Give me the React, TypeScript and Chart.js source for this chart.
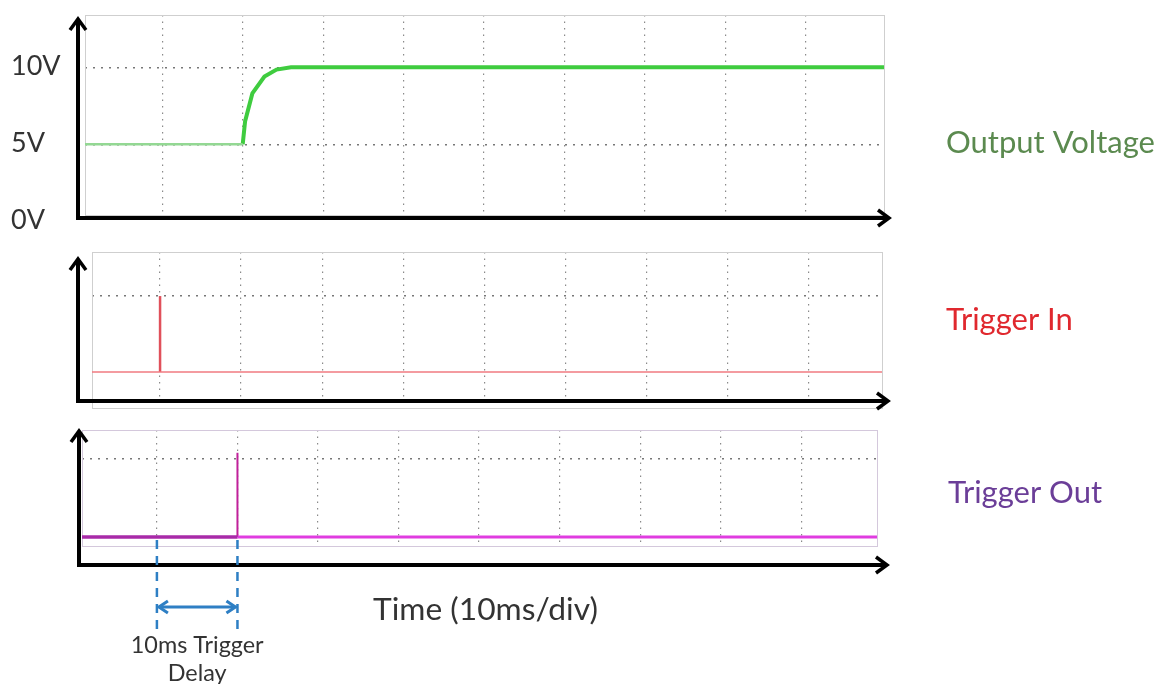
import React, { useEffect, useRef } from 'react';
import { Chart, registerables } from 'chart.js';
Chart.register(...registerables);

// ---------------- data ----------------
const gridTimesMs = [10, 20, 30, 40, 50, 60, 70, 80, 90];

const outputLowT = [0, 20];
const outputLowV = [5, 5];
const outputRiseT = [20, 20.3, 21.2, 22.7, 24.2, 26, 100];
const outputRiseV = [5, 6.5, 8.3, 9.4, 9.85, 10, 10];
const voltTickValues = [0, 5, 10];
const voltTickLabels = ['0V', '5V', '10V'];
const voltGridValues = [5, 10];

const trigInBaseT = [0, 100];
const trigInBaseV = [0, 0];
const trigInSpikeT = [10, 10];
const trigInSpikeV = [0, 1];

const trigOutPreT = [0, 20];
const trigOutPreV = [0, 0];
const trigOutSpikeT = [20, 20];
const trigOutSpikeV = [0, 1.08];
const trigOutPostT = [20, 100];
const trigOutPostV = [0, 0];
const logicGridValues = [1];

const delayStartMs = 10;
const delayEndMs = 20;

const seriesNames = ['Output Voltage', 'Trigger In', 'Trigger Out'];
const timeAxisLabel = 'Time (10ms/div)';
const delayLabelLines = ['10ms Trigger', 'Delay'];

// ---------------- helpers ----------------
const FONT = 'Lato, "Open Sans", sans-serif';
const xy = (ts: number[], vs: number[]) => ts.map((t, i) => ({ x: t, y: vs[i] }));

function fitSize(ctx: CanvasRenderingContext2D, text: string, target: number) {
  ctx.font = `100px ${FONT}`;
  const w = ctx.measureText(text).width || 1;
  return (100 * target) / w;
}

function chevron(ctx: CanvasRenderingContext2D, tx: number, ty: number, dx: number, dy: number, len: number, half: number) {
  const bx = tx - dx * len;
  const by = ty - dy * len;
  const px = -dy;
  const py = dx;
  ctx.beginPath();
  ctx.moveTo(bx + px * half, by + py * half);
  ctx.lineTo(tx, ty);
  ctx.lineTo(bx - px * half, by - py * half);
  ctx.stroke();
}

type PanelCfg = {
  key: string;
  top: number;
  height: number;
  padding: { left: number; right: number; top: number; bottom: number };
  xMin: number;
  xMax: number;
  yMin: number;
  yMax: number;
  yGrid: number[];
  datasets: any[];
  axis: { vx: number; vTop: number; hy: number; hRight: number };
  name: string;
  nameColor: string;
  nameLeft: number;
  nameY: number;
  boxColor: string;
  extra?: (chart: any, ctx: CanvasRenderingContext2D, off: number) => void;
};

const panels: PanelCfg[] = [
  {
    key: 'out',
    top: 0,
    height: 232,
    padding: { left: 85, right: 1161 - 884, top: 15, bottom: 232 - 215 },
    xMin: 0.4,
    xMax: 99.7,
    yMin: 0.4,
    yMax: 13.4,
    yGrid: voltGridValues,
    datasets: [
      { data: xy(outputLowT, outputLowV), borderColor: '#93d893', borderWidth: 2.5 },
      { data: xy(outputRiseT, outputRiseV), borderColor: '#3fcc3f', borderWidth: 4 },
      { data: xy(outputRiseT, outputRiseV), borderColor: '#2e8a2e', borderWidth: 1.4 },
    ],
    axis: { vx: 78, vTop: 18, hy: 218, hRight: 890 },
    name: seriesNames[0],
    nameColor: '#5b8a4f',
    nameLeft: 946,
    nameY: 143,
    boxColor: '#cfcfcf',
    extra: (chart, ctx, off) => {
      const y = chart.scales.y;
      ctx.save();
      ctx.font = `27px ${FONT}`;
      ctx.fillStyle = '#333';
      ctx.textAlign = 'left';
      ctx.textBaseline = 'middle';
      voltTickValues.forEach((v, i) => {
        ctx.fillText(voltTickLabels[i], 11, y.getPixelForValue(v) - 1);
      });
      ctx.restore();
    },
  },
  {
    key: 'in',
    top: 232,
    height: 190,
    padding: { left: 92, right: 1161 - 882, top: 252 - 232, bottom: 422 - 408 },
    xMin: 1.6,
    xMax: 99.1,
    yMin: -0.474,
    yMax: 1.58,
    yGrid: logicGridValues,
    datasets: [
      { data: xy(trigInBaseT, trigInBaseV), borderColor: '#f07a80', borderWidth: 1.6 },
      { data: xy(trigInSpikeT, trigInSpikeV), borderColor: '#e0505a', borderWidth: 2.5 },
    ],
    axis: { vx: 78, vTop: 258, hy: 401, hRight: 889 },
    name: seriesNames[1],
    nameColor: '#e0282e',
    nameLeft: 946,
    nameY: 320,
    boxColor: '#cfcfcf',
  },
  {
    key: 'outTrig',
    top: 422,
    height: 262,
    padding: { left: 82, right: 1161 - 877, top: 430 - 422, bottom: 684 - 546 },
    xMin: 0.7,
    xMax: 99.4,
    yMin: -0.115,
    yMax: 1.372,
    yGrid: logicGridValues,
    datasets: [
      { data: xy(trigOutPreT, trigOutPreV), borderColor: '#a82aa8', borderWidth: 3.5 },
      { data: xy(trigOutPostT, trigOutPostV), borderColor: '#e03ce0', borderWidth: 3 },
      { data: xy(trigOutSpikeT, trigOutSpikeV), borderColor: '#c0209a', borderWidth: 2 },
    ],
    axis: { vx: 79, vTop: 430, hy: 565, hRight: 888 },
    name: seriesNames[2],
    nameColor: '#6b3e98',
    nameLeft: 948,
    nameY: 493,
    boxColor: '#d4c8dc',
    extra: (chart, ctx, off) => {
      const x = chart.scales.x;
      const x1 = x.getPixelForValue(delayStartMs);
      const x2 = x.getPixelForValue(delayEndMs);
      const blue = '#2e7fc4';
      ctx.save();
      // dashed markers
      ctx.strokeStyle = blue;
      ctx.lineWidth = 2.5;
      ctx.setLineDash([9, 7]);
      [x1, x2].forEach((px) => {
        ctx.beginPath();
        ctx.moveTo(px, 540 - off);
        ctx.lineTo(px, 630 - off);
        ctx.stroke();
      });
      ctx.setLineDash([]);
      // double arrow
      const ay = 607 - off;
      ctx.lineWidth = 3;
      ctx.lineJoin = 'miter';
      ctx.beginPath();
      ctx.moveTo(x1 + 2, ay);
      ctx.lineTo(x2 - 2, ay);
      ctx.stroke();
      chevron(ctx, x1 + 2, ay, -1, 0, 9, 6);
      chevron(ctx, x2 - 2, ay, 1, 0, 9, 6);
      // texts
      ctx.fillStyle = '#333';
      ctx.textBaseline = 'middle';
      const ts = fitSize(ctx, timeAxisLabel, 225);
      ctx.font = `${ts}px ${FONT}`;
      ctx.textAlign = 'left';
      ctx.fillText(timeAxisLabel, 373, 610 - off);
      const ds = fitSize(ctx, delayLabelLines[0], 133);
      ctx.font = `${ds}px ${FONT}`;
      ctx.textAlign = 'center';
      const cx = (x1 + x2) / 2;
      ctx.fillText(delayLabelLines[0], cx, 645 - off);
      ctx.fillText(delayLabelLines[1], cx, 673 - off);
      ctx.restore();
    },
  },
];

function makePlugin(p: PanelCfg) {
  const off = p.top;
  return {
    id: 'decor_' + p.key,
    beforeDatasetsDraw(chart: any) {
      const { ctx, chartArea: a } = chart;
      ctx.save();
      ctx.strokeStyle = p.boxColor;
      ctx.lineWidth = 1;
      ctx.strokeRect(Math.round(a.left) + 0.5, Math.round(a.top) + 0.5, Math.round(a.right - a.left), Math.round(a.bottom - a.top));
      ctx.restore();
    },
    afterDraw(chart: any) {
      const ctx: CanvasRenderingContext2D = chart.ctx;
      const ax = p.axis;
      ctx.save();
      ctx.strokeStyle = '#000';
      ctx.lineWidth = 4;
      ctx.lineCap = 'butt';
      ctx.lineJoin = 'miter';
      ctx.beginPath();
      ctx.moveTo(ax.vx, ax.vTop - off + 2);
      ctx.lineTo(ax.vx, ax.hy - off);
      ctx.lineTo(ax.hRight - 2, ax.hy - off);
      ctx.stroke();
      ctx.lineWidth = 3.5;
      chevron(ctx, ax.vx, ax.vTop - off + 1, 0, -1, 11, 8);
      chevron(ctx, ax.hRight - 1, ax.hy - off, 1, 0, 11, 8);
      // series name
      const ns = fitSize(ctx, seriesNames[0], 209);
      ctx.font = `${ns}px ${FONT}`;
      ctx.fillStyle = p.nameColor;
      ctx.textAlign = 'left';
      ctx.textBaseline = 'middle';
      ctx.fillText(p.name, p.nameLeft, p.nameY - off);
      ctx.restore();
      if (p.extra) p.extra(chart, ctx, off);
    },
  };
}

function PanelCanvas({ p }: { p: PanelCfg }) {
  const ref = useRef<HTMLCanvasElement>(null);
  useEffect(() => {
    if (!ref.current) return;
    const chart = new Chart(ref.current, {
      type: 'line',
      data: {
        datasets: p.datasets.map((d) => ({ ...d, pointRadius: 0, tension: 0, fill: false })),
      },
      options: {
        animation: false,
        responsive: false,
        maintainAspectRatio: false,
        events: [],
        layout: { padding: p.padding },
        plugins: { legend: { display: false }, tooltip: { enabled: false }, title: { display: false } },
        scales: {
          x: {
            type: 'linear',
            min: p.xMin,
            max: p.xMax,
            afterBuildTicks: (s: any) => {
              s.ticks = gridTimesMs.map((v) => ({ value: v }));
            },
            ticks: { display: false },
            grid: { color: '#8a8a8a', lineWidth: 1.2, drawTicks: false, tickLength: 0 },
            border: { display: false, dash: [1.5, 5] },
          },
          y: {
            type: 'linear',
            min: p.yMin,
            max: p.yMax,
            afterBuildTicks: (s: any) => {
              s.ticks = p.yGrid.map((v) => ({ value: v }));
            },
            ticks: { display: false },
            grid: { color: '#777', lineWidth: 1.4, drawTicks: false, tickLength: 0 },
            border: { display: false, dash: [2, 6] },
          },
        },
      },
      plugins: [makePlugin(p)],
    } as any);
    return () => chart.destroy();
  }, [p]);
  return (
    <canvas
      ref={ref}
      width={1161}
      height={p.height}
      style={{ position: 'absolute', left: 0, top: p.top, width: 1161, height: p.height, display: 'block' }}
    />
  );
}

export default function App() {
  return (
    <div style={{ position: 'fixed', left: 0, top: 0, width: 1161, height: 684, background: '#fff', overflow: 'hidden' }}>
      {panels.map((p) => (
        <PanelCanvas key={p.key} p={p} />
      ))}
    </div>
  );
}
